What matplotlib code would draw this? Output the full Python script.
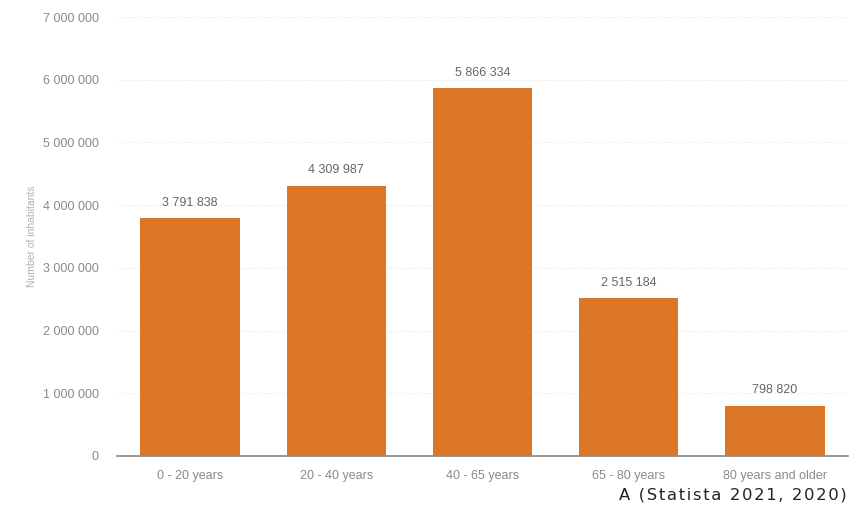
import matplotlib.pyplot as plt

plt.rcParams['font.family'] = ['Liberation Sans', 'DejaVu Sans']

# age groups and population counts
categories = ['0 - 20 years', '20 - 40 years', '40 - 65 years', '65 - 80 years', '80 years and older']
values = [3791838, 4309987, 5866334, 2515184, 798820]
yticks = [0, 1000000, 2000000, 3000000, 4000000, 5000000, 6000000, 7000000]
caption = 'A (Statista 2021, 2020)'


def fmt(v):
    return '{:,}'.format(v).replace(',', ' ')


fig = plt.figure(figsize=(8.51, 5.12), dpi=100)
ax = fig.add_axes([117 / 851, 56 / 512, 731 / 851, 439 / 512])

x = range(len(categories))
bars = ax.bar(x, values, width=0.68, color='#DB7726', zorder=3)

for xi, v in zip(x, values):
    ax.text(xi, v + 150000, fmt(v), ha='center', va='bottom', fontsize=9, color='#666666')

ax.set_xlim(-0.5, 4.5)
ax.set_ylim(0, 7000000)
ax.set_yticks(yticks)
ax.set_yticklabels([fmt(t) for t in yticks], fontsize=9, color='#8a8a8a')
ax.set_xticks(list(x))
ax.set_xticklabels(categories, fontsize=9, color='#8a8a8a')
ax.tick_params(axis='x', length=0, pad=10)
ax.tick_params(axis='y', length=0, pad=13)

ax.grid(axis='y', color='#e2e2e2', linestyle=(0, (1, 2)), linewidth=0.8, zorder=0)
for s in ['top', 'right', 'left']:
    ax.spines[s].set_visible(False)
ax.spines['bottom'].set_color('#888888')
ax.spines['bottom'].set_linewidth(1.2)

ax.set_ylabel('Number of inhabitants', fontsize=7.5, color='#b0b0b0', labelpad=4)

# letter-spaced caption
fig.text(0.995, 0.018, '\u200a'.join(caption), ha='right', va='bottom',
         fontsize=11.8, color='#222222', family='DejaVu Sans')

fig.savefig('out.png', dpi=100)
